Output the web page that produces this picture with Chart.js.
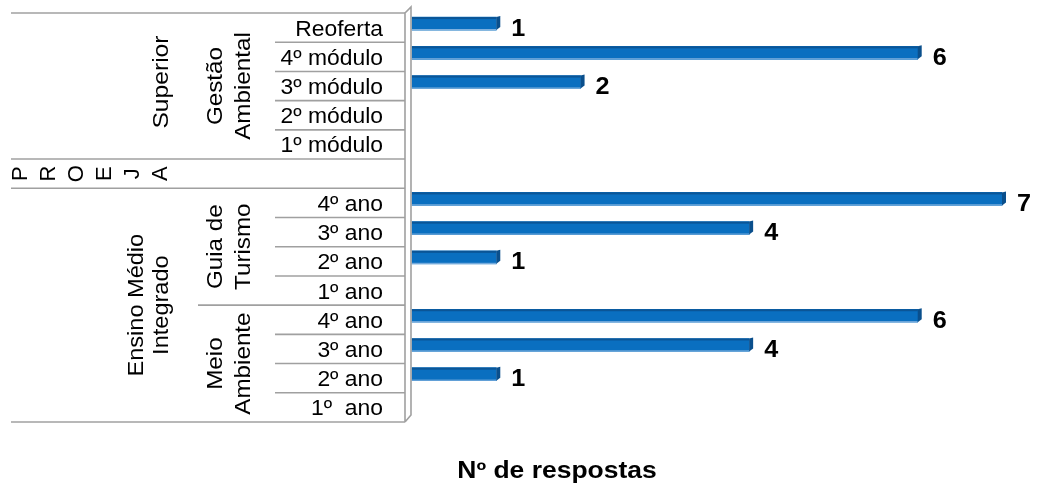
<!DOCTYPE html>
<html>
<head>
<meta charset="utf-8">
<script src="https://cdn.jsdelivr.net/npm/chart.js@4"></script>
<style>
  body { margin: 0; background: #fff; }
  #grafico { display: block; }
</style>
</head>
<body>
<canvas id="grafico" width="1039" height="488"></canvas>
<script>
// Dados do gráfico
const turmas = ['Reoferta', '4º módulo', '3º módulo', '2º módulo', '1º módulo', '',
  '4º ano', '3º ano', '2º ano', '1º ano', '4º ano', '3º ano', '2º ano', '1º  ano'];
const respostas = [1, 6, 2, null, null, null, 7, 4, 1, null, 6, 4, 1, null];

const cursos = [['Gestão', 'Ambiental'], ['Guia de', 'Turismo'], ['Meio', 'Ambiente']];
const cursoLinhas = [[0, 4], [6, 9], [10, 13]];

const niveis = [['Superior'], ['PROEJA'], ['Ensino Médio', 'Integrado']];
const nivelLinhas = [[0, 4], [5, 5], [6, 13]];

const tituloX = 'Nº de respostas';

const FONTE = "'Liberation Sans', Arial, sans-serif";
const CINZA = '#a0a0a0';

// Texto com esticamento horizontal (a figura tem fonte "larga")
function texto(ctx, str, x, y, fonte, alinhamento, esticar, rotacao) {
    ctx.save();
    ctx.translate(x, y);
    if (rotacao) ctx.rotate(rotacao);
    ctx.scale(esticar, 1);
    ctx.font = fonte;
    ctx.textAlign = alinhamento;
    ctx.fillStyle = '#000';
    ctx.fillText(str, 0, 0);
    ctx.restore();
}

// Barras com aparência 3D (deslocadas para cima como no Excel)
const barras3d = {
    id: 'barras3d',
    beforeDatasetsDraw(chart) {
        chart.ctx.save();
        chart.ctx.translate(0, -4);
    },
    afterDatasetsDraw(chart) {
        const ctx = chart.ctx;
        const meta = chart.getDatasetMeta(0);
        meta.data.forEach((el, i) => {
            if (respostas[i] == null) return;
            const x0 = el.base, x1 = el.x;
            const topo = el.y - el.height / 2, fundo = el.y + el.height / 2;
            // faixa superior escura
            ctx.fillStyle = '#0b5596';
            ctx.fillRect(x0, topo, x1 - x0, 2);
            // realce inferior
            ctx.fillStyle = '#8cb8e2';
            ctx.fillRect(x0, fundo - 1, x1 - x0, 1);
            // face lateral
            ctx.beginPath();
            ctx.moveTo(x1, topo);
            ctx.lineTo(x1 + 4, topo - 1);
            ctx.lineTo(x1 + 4, fundo - 3);
            ctx.lineTo(x1, fundo);
            ctx.closePath();
            ctx.fillStyle = '#0a4f8c';
            ctx.fill();
        });
        ctx.restore();
    }
};

// Eixo de categorias em vários níveis, parede 3D, rótulos e título
const eixoNiveis = {
    id: 'eixoNiveis',
    afterDraw(chart) {
        const ctx = chart.ctx;
        const area = chart.chartArea;
        const y = chart.scales.y, x = chart.scales.x;
        const n = turmas.length;
        const alt = (area.bottom - area.top) / n;
        const centro = i => y.getPixelForValue(i);
        const limite = i => centro(i) + alt / 2;
        const xFrente = area.left - 7, xFundo = area.left - 1;

        ctx.save();
        ctx.strokeStyle = CINZA;
        ctx.lineWidth = 1.6;

        // linhas horizontais das caixas de rótulos
        const linha = (yy, xIni) => {
            ctx.beginPath();
            ctx.moveTo(xIni, yy);
            ctx.lineTo(xFrente, yy);
            ctx.stroke();
        };
        linha(area.top, 11);
        for (let i = 0; i < n; i++) {
            let xIni = 275;
            if (nivelLinhas.some(g => g[1] === i)) xIni = 11;
            else if (cursoLinhas.some(g => g[1] === i)) xIni = 198;
            linha(limite(i), xIni);
        }

        // parede 3D
        ctx.beginPath();
        ctx.moveTo(xFrente, area.bottom);
        ctx.lineTo(xFrente, area.top);
        ctx.lineTo(xFundo, area.top - 6);
        ctx.lineTo(xFundo, area.bottom - 7);
        ctx.lineTo(xFrente, area.bottom);
        ctx.stroke();
        ctx.restore();

        // rótulos internos
        const fInterna = '22px ' + FONTE;
        turmas.forEach((t, i) => {
            if (t) texto(ctx, t, 383, centro(i) + 8, fInterna, 'right', 1.04);
        });

        // cursos (rotacionados, duas linhas)
        cursos.forEach((c, k) => {
            const yc = (limite(cursoLinhas[k][0] - 1) + limite(cursoLinhas[k][1])) / 2;
            texto(ctx, c[0], 222, yc, fInterna, 'center', 1.1, -Math.PI / 2);
            texto(ctx, c[1], 250, yc, fInterna, 'center', 1.1, -Math.PI / 2);
        });

        // níveis
        niveis.forEach((nv, k) => {
            const ini = nivelLinhas[k][0], fim = nivelLinhas[k][1];
            const yc = ini === 0 ? (area.top + limite(fim)) / 2 : (limite(ini - 1) + limite(fim)) / 2;
            if (ini === fim) {
                // texto empilhado (letra por letra)
                const letras = nv[0].split('');
                letras.forEach((l, j) => {
                    ctx.save();
                    ctx.translate(21 + j * 28, yc);
                    ctx.rotate(-Math.PI / 2);
                    ctx.font = '22px ' + FONTE;
                    ctx.textAlign = 'center';
                    ctx.textBaseline = 'middle';
                    ctx.fillStyle = '#000';
                    ctx.fillText(l, 0, 0);
                    ctx.restore();
                });
            } else if (nv.length === 1) {
                texto(ctx, nv[0], 168, yc - 4, fInterna, 'center', 1.12, -Math.PI / 2);
            } else {
                texto(ctx, nv[0], 143, yc, fInterna, 'center', 1.07, -Math.PI / 2);
                texto(ctx, nv[1], 168, yc, fInterna, 'center', 1.07, -Math.PI / 2);
            }
        });

        // rótulos de dados
        respostas.forEach((v, i) => {
            if (v == null) return;
            texto(ctx, String(v), x.getPixelForValue(v) + 15, centro(i) + 8,
                'bold 24px ' + FONTE, 'left', 1.05);
        });

        // título do eixo
        texto(ctx, tituloX, 557, 478, 'bold 23px ' + FONTE, 'center', 1.15);
    }
};

new Chart(document.getElementById('grafico'), {
    type: 'bar',
    data: {
        labels: turmas,
        datasets: [{
            data: respostas,
            backgroundColor: '#0a6fc0',
            borderWidth: 0,
            barThickness: 13,
            clip: false
        }]
    },
    options: {
        indexAxis: 'y',
        responsive: false,
        animation: false,
        devicePixelRatio: 1,
        layout: { padding: { left: 412, right: 37, top: 13, bottom: 66 } },
        plugins: { legend: { display: false }, tooltip: { enabled: false } },
        scales: {
            x: { display: false, min: 0, max: 7 },
            y: { display: false }
        }
    },
    plugins: [barras3d, eixoNiveis]
});
</script>
</body>
</html>
